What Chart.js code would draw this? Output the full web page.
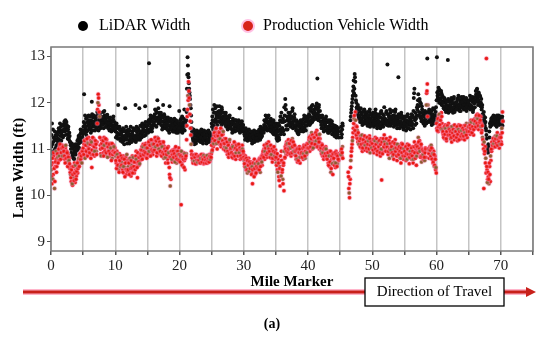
<!DOCTYPE html>
<html>
<head>
<meta charset="utf-8">
<script src="https://cdn.jsdelivr.net/npm/chart.js@4.4.1/dist/chart.umd.min.js"></script>
<style>
  body { margin: 0; background: #fff; }
  canvas { display: block; }
</style>
</head>
<body>
<canvas id="laneChart" width="550" height="343"></canvas>
<script>
// mile markers; each mile has one row of ten readings per pass
const mileMarkers = [];
for (let m = 0; m <= 70; m++) mileMarkers.push(m);

// pass A: readings at m + 0.05, m + 0.15, ...
const lidarWidth = [
  [11.05, 11.55, 10.90, 11.15, 11.25, 10.98, 11.20, 11.30, 11.08, 11.35],
  [11.22, 11.38, 11.15, 11.42, 11.28, 11.48, 11.32, 11.40, 11.25, 11.50],
  [11.55, 11.38, 11.62, 11.45, 11.52, 11.32, 11.42, 11.25, 11.35, 11.15],
  [11.08, 10.92, 11.12, 10.85, 11.00, 10.80, 10.95, 11.05, 10.88, 11.02],
  [11.10, 10.98, 11.22, 11.12, 11.30, 11.18, 11.35, 11.25, 11.40, 11.32],
  [11.48, 12.18, 11.55, 11.42, 11.65, 11.38, 11.58, 11.50, 11.72, 11.45],
  [11.58, 11.42, 11.62, 12.02, 11.48, 11.68, 11.52, 11.60, 11.40, 11.65],
  [11.52, 11.70, 11.48, 11.75, 11.58, 11.64, 11.50, 11.78, 11.60, 11.68],
  [11.62, 11.80, 11.55, 11.72, 11.58, 11.66, 11.50, 11.74, 11.60, 11.52],
  [11.48, 11.62, 11.55, 11.42, 11.60, 11.50, 11.64, 11.45, 11.58, 11.52],
  [11.38, 11.52, 11.28, 11.45, 11.95, 11.32, 11.48, 11.22, 11.40, 11.30],
  [11.22, 11.38, 11.18, 11.42, 11.28, 11.88, 11.20, 11.35, 11.12, 11.32],
  [11.28, 11.18, 11.40, 11.22, 11.32, 11.15, 11.38, 11.25, 11.20, 11.42],
  [11.18, 11.95, 11.28, 11.38, 11.22, 11.45, 11.30, 11.88, 11.20, 11.35],
  [11.32, 11.48, 11.28, 11.42, 11.38, 11.52, 11.92, 11.30, 11.48, 11.40],
  [11.42, 11.58, 12.85, 11.38, 11.65, 11.48, 11.60, 11.45, 11.68, 11.52],
  [11.58, 11.75, 11.50, 11.82, 11.62, 12.05, 11.68, 11.55, 11.78, 11.60],
  [11.65, 11.52, 11.72, 11.48, 11.95, 11.58, 11.70, 11.45, 11.62, 11.55],
  [11.48, 11.62, 11.40, 11.58, 11.92, 11.50, 11.65, 11.42, 11.55, 11.38],
  [11.45, 11.58, 11.38, 11.50, 11.62, 11.42, 11.55, 11.35, 11.48, 11.82],
  [11.52, 11.40, 11.65, 11.48, 11.35, 11.58, 11.42, 11.85, 11.50, 11.60],
  [11.62, 12.30, 12.98, 12.62, 12.42, 12.22, 12.08, 11.88, 11.58, 11.38],
  [11.25, 11.15, 11.32, 11.20, 11.38, 11.12, 11.28, 11.22, 11.35, 11.18],
  [11.22, 11.30, 11.15, 11.35, 11.20, 11.28, 11.12, 11.38, 11.25, 11.18],
  [11.30, 11.20, 11.35, 11.15, 11.28, 11.22, 11.32, 11.18, 11.25, 11.30],
  [11.48, 11.62, 11.42, 11.78, 11.58, 11.88, 11.65, 11.72, 11.52, 11.80],
  [11.68, 11.82, 11.58, 11.75, 11.62, 11.90, 11.55, 11.70, 11.60, 11.78],
  [11.58, 11.72, 11.48, 11.65, 11.52, 11.60, 11.45, 11.68, 11.50, 11.58],
  [11.52, 11.42, 11.60, 11.38, 11.55, 11.48, 11.62, 11.40, 11.50, 11.45],
  [11.48, 11.58, 11.40, 11.88, 11.52, 11.42, 11.55, 11.38, 11.50, 11.45],
  [11.38, 11.28, 11.42, 11.22, 11.35, 11.30, 11.40, 11.25, 11.32, 11.20],
  [11.25, 11.32, 11.18, 11.28, 11.22, 11.35, 11.15, 11.30, 11.20, 11.26],
  [11.28, 11.22, 11.35, 11.25, 11.38, 11.20, 11.32, 11.42, 11.28, 11.45],
  [11.38, 11.52, 11.42, 11.58, 11.48, 11.65, 11.40, 11.55, 11.72, 11.50],
  [11.45, 11.60, 11.38, 11.52, 11.42, 11.58, 11.32, 11.48, 11.40, 11.55],
  [11.28, 11.42, 11.18, 11.38, 11.25, 11.50, 11.62, 11.32, 11.78, 11.45],
  [11.38, 11.58, 11.32, 11.72, 12.08, 11.85, 11.42, 11.62, 11.52, 11.78],
  [11.58, 11.72, 11.48, 11.65, 11.52, 11.82, 11.45, 11.60, 11.68, 11.50],
  [11.48, 11.40, 11.58, 11.35, 11.50, 11.38, 11.55, 11.42, 11.62, 11.45],
  [11.42, 11.55, 11.38, 11.65, 11.48, 11.58, 11.40, 11.70, 11.52, 11.60],
  [11.58, 11.75, 11.52, 11.82, 11.62, 11.92, 11.58, 11.78, 11.68, 11.85],
  [11.72, 11.88, 11.65, 11.98, 12.52, 11.78, 11.90, 11.68, 11.82, 11.60],
  [11.52, 11.68, 11.45, 11.60, 11.38, 11.55, 11.48, 11.65, 11.40, 11.58],
  [11.42, 11.58, 11.35, 11.50, 11.62, 11.40, 11.55, 11.32, 11.48, 11.38],
  [11.32, 11.45, 11.28, 11.40, 11.48, 11.30, 11.38, 11.25, null, null],
  [null, 11.48, 11.32, 11.55, null, null, null, null, null, null],
  [null, null, null, null, null, null, 11.70, 11.85, 12.00, 12.15],
  [12.35, 12.20, 12.62, 12.45, 12.05, 11.90, 11.78, 11.95, 11.70, 11.85],
  [11.65, 11.80, 11.58, 11.75, 11.52, 11.70, 11.55, 11.85, 11.62, 11.72],
  [11.60, 11.75, 11.50, 11.68, 11.55, 11.80, 11.48, 11.65, 11.58, 11.70],
  [11.55, 11.70, 11.48, 11.65, 11.78, 11.52, 11.68, 11.45, 11.62, 11.58],
  [11.52, 11.68, 11.45, 11.80, 11.58, 11.50, 11.75, 11.55, 11.90, 11.62],
  [11.58, 11.78, 11.52, 12.82, 11.62, 11.72, 11.55, 11.85, 11.50, 11.68],
  [11.62, 11.55, 11.72, 11.48, 11.65, 11.80, 11.52, 11.70, 11.45, 11.62],
  [12.55, 11.68, 11.45, 11.60, 11.52, 11.72, 11.48, 11.65, 11.42, 11.58],
  [11.48, 11.62, 11.40, 11.55, 11.70, 11.45, 11.60, 11.52, 11.66, 11.42],
  [11.58, 11.50, 11.72, 11.45, 12.10, 12.30, 11.52, 11.68, 11.55, 11.90],
  [11.95, 12.18, 11.80, 12.08, 11.68, 11.98, 11.60, 11.85, 11.72, 11.55],
  [11.62, 11.50, 11.75, 11.58, 11.70, 12.95, 11.80, 11.60, 11.85, 11.66],
  [11.60, 11.75, 11.52, 11.68, 11.88, 11.55, 11.72, 11.62, 11.80, 11.65],
  [12.98, 12.15, 12.25, 12.05, 12.28, 12.10, 11.98, 12.20, 12.02, 12.12],
  [11.92, 12.05, 11.85, 12.00, 11.80, 11.95, 11.88, 12.92, 11.78, 12.02],
  [11.95, 11.82, 12.05, 11.88, 11.98, 11.78, 12.08, 11.85, 11.92, 12.00],
  [11.90, 12.02, 11.85, 12.10, 11.95, 11.88, 12.05, 11.82, 11.98, 12.08],
  [11.92, 12.00, 11.85, 12.08, 11.90, 11.98, 11.82, 12.05, 11.95, 11.88],
  [11.95, 12.05, 11.85, 12.10, 11.92, 12.02, 11.80, 12.08, 11.98, 11.90],
  [12.05, 12.18, 12.28, 12.10, 11.95, 12.22, 12.00, 12.15, 11.92, 12.08],
  [11.90, 11.75, 11.62, 11.80, 11.55, 11.68, 11.45, 11.30, 11.05, 10.95],
  [11.10, 10.95, 11.25, 11.48, 11.60, 11.52, 11.68, 11.58, 11.72, 11.62],
  [11.55, 11.70, 11.60, 11.48, 11.65, 11.58, 11.72, 11.52, 11.62, 11.68],
  [11.58, 11.65, 11.50, null, null, null, null, null, null, null]
];

const vehicleWidth = [
  [10.55, 10.25, 10.70, 10.45, 10.85, 10.15, 10.62, 10.78, 10.50, 10.88],
  [10.82, 10.95, 10.75, 11.05, 10.88, 10.98, 10.80, 11.08, 10.92, 11.00],
  [10.90, 10.78, 11.02, 10.85, 10.95, 10.72, 10.88, 10.65, 10.80, 10.58],
  [10.45, 10.30, 10.62, 10.22, 10.50, 10.38, 10.70, 10.28, 10.55, 10.42],
  [10.60, 10.48, 10.75, 10.65, 10.85, 10.72, 10.92, 10.80, 10.98, 10.88],
  [10.95, 11.10, 10.85, 11.20, 10.98, 11.15, 10.90, 11.05, 11.25, 10.92],
  [11.00, 11.18, 10.88, 10.60, 11.08, 10.95, 11.22, 10.85, 11.12, 11.02],
  [10.95, 11.15, 11.85, 12.18, 11.95, 11.70, 11.08, 10.90, 11.20, 11.02],
  [11.10, 10.92, 11.25, 11.00, 11.15, 10.88, 11.20, 11.05, 10.95, 11.12],
  [11.00, 10.85, 11.12, 10.95, 11.05, 10.80, 10.98, 11.08, 10.88, 11.02],
  [10.85, 10.70, 10.95, 10.62, 10.80, 10.55, 10.90, 10.68, 10.78, 10.60],
  [10.72, 10.55, 10.85, 10.48, 10.68, 10.60, 10.82, 10.45, 10.75, 10.58],
  [10.62, 10.78, 10.50, 10.70, 10.42, 10.65, 10.85, 10.55, 10.72, 10.48],
  [10.80, 10.62, 10.95, 10.70, 10.38, 10.85, 10.65, 10.90, 10.75, 10.98],
  [10.90, 11.05, 10.82, 11.10, 10.95, 11.02, 10.85, 11.12, 10.98, 10.88],
  [10.95, 11.10, 10.85, 11.18, 11.00, 11.12, 10.92, 11.05, 10.88, 11.15],
  [11.05, 11.20, 10.95, 11.15, 10.85, 11.25, 11.00, 11.12, 10.90, 11.08],
  [11.02, 10.88, 11.15, 10.95, 11.10, 10.80, 11.05, 10.92, 10.70, 11.00],
  [10.95, 10.78, 11.05, 10.85, 10.45, 10.20, 10.35, 10.90, 10.72, 10.98],
  [10.88, 10.75, 11.00, 10.82, 10.95, 10.70, 10.90, 10.78, 11.02, 10.85],
  [10.80, 10.95, 9.80, 10.70, 10.88, 10.62, 10.92, 10.75, 10.55, 10.85],
  [10.90, 11.50, 11.85, 12.05, 12.25, 11.95, 11.60, 11.30, 10.95, 10.82],
  [10.75, 10.82, 10.70, 10.88, 10.72, 10.80, 10.68, 10.85, 10.78, 10.74],
  [10.80, 10.72, 10.86, 10.70, 10.82, 10.76, 10.88, 10.68, 10.78, 10.84],
  [10.72, 10.85, 10.78, 10.70, 10.82, 10.76, 10.88, 10.74, 10.80, 10.90],
  [10.95, 11.15, 11.05, 11.30, 11.10, 11.40, 11.20, 11.35, 11.00, 11.25],
  [11.20, 11.38, 11.10, 11.28, 11.05, 11.42, 11.15, 11.32, 11.00, 11.22],
  [11.05, 11.18, 10.95, 11.12, 10.88, 11.08, 10.82, 11.15, 10.92, 11.02],
  [10.95, 10.85, 11.08, 10.80, 11.00, 10.90, 11.12, 10.78, 10.98, 10.88],
  [10.92, 11.05, 10.85, 11.00, 10.78, 10.95, 10.88, 11.08, 10.82, 10.90],
  [10.75, 10.62, 10.85, 10.55, 10.72, 10.48, 10.68, 10.80, 10.58, 10.70],
  [10.60, 10.72, 10.50, 10.25, 10.65, 10.55, 10.78, 10.45, 10.62, 10.52],
  [10.68, 10.55, 10.75, 10.62, 10.80, 10.50, 10.72, 10.85, 10.65, 10.90],
  [10.85, 11.00, 10.78, 11.05, 10.90, 11.12, 10.82, 10.98, 11.15, 10.92],
  [10.88, 11.05, 10.80, 10.95, 10.72, 11.02, 10.85, 10.92, 10.78, 10.98],
  [10.70, 10.85, 10.55, 10.78, 10.40, 10.62, 10.20, 10.72, 10.95, 10.50],
  [10.35, 10.65, 10.10, 10.80, 11.05, 10.90, 11.15, 10.88, 11.02, 11.20],
  [11.05, 10.92, 11.15, 10.85, 11.08, 11.22, 10.95, 11.10, 10.88, 11.00],
  [10.90, 10.78, 11.02, 10.72, 10.95, 10.82, 11.05, 10.70, 10.88, 10.98],
  [10.85, 11.00, 10.78, 11.08, 10.92, 10.80, 11.02, 10.88, 11.12, 10.95],
  [11.05, 11.20, 10.95, 11.28, 11.10, 11.35, 11.00, 11.18, 11.08, 11.30],
  [11.15, 11.32, 11.05, 11.40, 11.20, 11.10, 11.28, 11.00, 11.22, 11.12],
  [10.95, 11.10, 10.85, 11.02, 10.78, 10.98, 10.88, 11.05, 10.80, 10.92],
  [10.85, 10.70, 10.95, 10.62, 10.88, 10.50, 10.78, 10.92, 10.45, 10.80],
  [10.72, 10.88, 10.60, 10.95, 10.82, 10.68, 10.90, 10.75, null, null],
  [null, 10.95, 10.85, 11.05, null, null, null, null, null, null],
  [null, null, 10.50, 10.15, 9.95, 10.35, 10.75, 10.95, 11.10, 11.25],
  [11.45, 11.65, 11.35, 11.80, 11.50, 11.25, 11.40, 11.15, 11.30, 11.20],
  [11.10, 11.28, 11.02, 11.20, 10.95, 11.15, 11.05, 11.25, 10.98, 11.18],
  [11.08, 11.22, 10.95, 11.15, 11.02, 11.28, 10.92, 11.12, 11.05, 11.20],
  [11.05, 11.18, 10.92, 11.12, 11.25, 10.98, 11.15, 10.88, 11.08, 11.02],
  [10.98, 11.12, 10.85, 11.22, 10.33, 10.95, 11.18, 11.02, 11.30, 11.08],
  [11.02, 11.20, 10.95, 11.15, 10.88, 11.10, 10.80, 11.25, 10.92, 11.05],
  [10.98, 10.85, 11.12, 10.78, 11.05, 11.20, 10.90, 11.08, 10.75, 11.00],
  [10.92, 11.08, 10.82, 11.00, 10.70, 11.12, 10.85, 11.02, 10.78, 10.95],
  [10.88, 11.02, 10.75, 10.95, 11.10, 10.82, 10.98, 10.68, 11.05, 10.80],
  [10.92, 10.78, 11.05, 10.70, 10.88, 11.15, 10.82, 11.00, 10.65, 10.95],
  [11.10, 11.25, 10.95, 11.18, 10.85, 11.05, 10.72, 11.00, 10.90, 10.78],
  [10.88, 10.75, 11.02, 10.82, 12.20, 12.40, 11.95, 10.95, 10.80, 11.05],
  [10.92, 11.08, 10.80, 11.00, 10.70, 10.95, 10.62, 10.85, 10.55, 10.48],
  [11.45, 11.60, 11.38, 11.72, 11.50, 11.65, 11.42, 11.78, 11.55, 11.35],
  [11.30, 11.45, 11.22, 11.52, 11.35, 11.18, 11.42, 11.28, 11.55, 11.38],
  [11.35, 11.22, 11.48, 11.15, 11.40, 11.28, 11.50, 11.20, 11.32, 11.45],
  [11.30, 11.45, 11.18, 11.38, 11.52, 11.25, 11.42, 11.32, 11.48, 11.22],
  [11.38, 11.28, 11.50, 11.20, 11.42, 11.32, 11.55, 11.25, 11.45, 11.35],
  [11.40, 11.55, 11.32, 11.62, 11.45, 11.38, 11.58, 11.30, 11.50, 11.65],
  [11.52, 11.68, 11.45, 11.75, 11.58, 11.42, 11.65, 11.50, 11.70, 11.55],
  [11.40, 11.25, 11.10, 10.15, 10.90, 11.05, 10.80, 12.95, 10.55, 10.35],
  [10.40, 10.25, 10.62, 10.30, 10.75, 10.95, 11.10, 11.02, 11.18, 11.25],
  [11.12, 11.28, 11.05, 11.20, 11.35, 11.10, 11.25, 11.02, 11.18, 11.30],
  [11.15, 11.45, 11.80, null, null, null, null, null, null, null]
];

// pass B: readings at m + 0.0, m + 0.1, ...
const lidarWidthB = [
  [10.95, 11.30, 11.10, 11.42, 10.88, 11.22, 11.38, 11.02, 11.28, 11.18],
  [11.30, 11.12, 11.45, 11.20, 11.55, 11.35, 11.18, 11.52, 11.38, 11.28],
  [11.42, 11.60, 11.48, 11.30, 11.58, 11.40, 11.22, 11.48, 11.20, 11.28],
  [11.15, 11.00, 10.82, 11.05, 10.90, 11.08, 10.78, 10.88, 11.10, 10.95],
  [11.00, 11.18, 11.05, 11.28, 11.02, 11.22, 11.42, 11.15, 11.38, 11.25],
  [11.40, 11.58, 11.35, 11.72, 11.48, 11.30, 11.68, 11.40, 11.55, 11.62],
  [11.50, 11.70, 11.35, 11.55, 11.75, 11.40, 11.58, 11.72, 11.48, 11.55],
  [11.62, 11.45, 11.80, 11.55, 11.40, 11.72, 11.58, 11.45, 11.70, 11.55],
  [11.52, 11.68, 11.45, 11.82, 11.62, 11.48, 11.72, 11.56, 11.68, 11.45],
  [11.55, 11.40, 11.68, 11.52, 11.38, 11.58, 11.45, 11.70, 11.50, 11.40],
  [11.45, 11.25, 11.55, 11.35, 11.22, 11.48, 11.30, 11.42, 11.18, 11.35],
  [11.30, 11.15, 11.45, 11.25, 11.10, 11.38, 11.28, 11.48, 11.22, 11.40],
  [11.35, 11.42, 11.12, 11.30, 11.48, 11.25, 11.18, 11.32, 11.45, 11.28],
  [11.25, 11.40, 11.15, 11.48, 11.32, 11.20, 11.42, 11.25, 11.38, 11.50],
  [11.38, 11.25, 11.55, 11.35, 11.48, 11.28, 11.40, 11.58, 11.35, 11.52],
  [11.50, 11.35, 11.62, 11.55, 11.42, 11.72, 11.50, 11.38, 11.58, 11.70],
  [11.65, 11.52, 11.85, 11.68, 11.48, 11.78, 11.60, 11.88, 11.65, 11.72],
  [11.58, 11.78, 11.60, 11.42, 11.68, 11.52, 11.75, 11.62, 11.50, 11.68],
  [11.55, 11.42, 11.68, 11.50, 11.35, 11.60, 11.45, 11.58, 11.48, 11.62],
  [11.52, 11.38, 11.65, 11.45, 11.55, 11.35, 11.60, 11.48, 11.40, 11.55],
  [11.45, 11.62, 11.38, 11.55, 11.70, 11.45, 11.52, 11.65, 11.40, 11.55],
  [11.50, 11.80, 12.60, 12.80, 12.55, 12.30, 12.15, 11.95, 11.72, 11.45],
  [11.30, 11.20, 11.42, 11.10, 11.28, 11.35, 11.18, 11.40, 11.25, 11.30],
  [11.28, 11.38, 11.18, 11.25, 11.42, 11.15, 11.32, 11.22, 11.40, 11.30],
  [11.25, 11.38, 11.12, 11.30, 11.20, 11.40, 11.15, 11.35, 11.28, 11.22],
  [11.55, 11.70, 11.85, 11.50, 11.95, 11.62, 11.78, 11.58, 11.92, 11.68],
  [11.75, 11.60, 11.92, 11.68, 11.80, 11.52, 11.85, 11.65, 11.78, 11.62],
  [11.65, 11.52, 11.78, 11.58, 11.70, 11.42, 11.62, 11.55, 11.72, 11.48],
  [11.45, 11.58, 11.35, 11.65, 11.42, 11.55, 11.38, 11.52, 11.62, 11.40],
  [11.55, 11.42, 11.62, 11.48, 11.35, 11.58, 11.45, 11.60, 11.42, 11.52],
  [11.42, 11.32, 11.20, 11.45, 11.28, 11.38, 11.18, 11.35, 11.42, 11.25],
  [11.30, 11.20, 11.38, 11.12, 11.32, 11.25, 11.40, 11.22, 11.35, 11.18],
  [11.22, 11.38, 11.18, 11.30, 11.42, 11.28, 11.48, 11.25, 11.38, 11.35],
  [11.45, 11.35, 11.62, 11.50, 11.72, 11.45, 11.58, 11.68, 11.42, 11.60],
  [11.52, 11.40, 11.65, 11.48, 11.55, 11.35, 11.62, 11.42, 11.50, 11.35],
  [11.35, 11.22, 11.48, 11.30, 11.55, 11.20, 11.42, 11.70, 11.38, 11.58],
  [11.45, 11.65, 11.40, 11.90, 11.60, 11.95, 11.50, 11.70, 11.42, 11.65],
  [11.65, 11.52, 11.78, 11.58, 11.70, 11.55, 11.88, 11.52, 11.62, 11.75],
  [11.52, 11.45, 11.62, 11.40, 11.55, 11.32, 11.48, 11.58, 11.38, 11.52],
  [11.48, 11.62, 11.45, 11.55, 11.72, 11.42, 11.65, 11.50, 11.62, 11.68],
  [11.65, 11.55, 11.88, 11.70, 11.55, 11.85, 11.68, 11.95, 11.62, 11.75],
  [11.80, 11.65, 11.92, 11.75, 11.70, 11.85, 11.62, 11.95, 11.72, 11.68],
  [11.58, 11.45, 11.72, 11.52, 11.65, 11.42, 11.60, 11.55, 11.70, 11.48],
  [11.48, 11.35, 11.62, 11.45, 11.38, 11.55, 11.45, 11.60, 11.40, 11.52],
  [11.40, 11.28, 11.50, 11.35, 11.25, 11.42, 11.32, 11.45, null, null],
  [null, 11.38, 11.25, 11.42, 11.50, null, null, null, null, null],
  [null, null, null, null, null, null, 11.62, 11.78, 11.92, 12.08],
  [12.25, 12.48, 12.30, 12.55, 12.15, 12.00, 11.85, 11.75, 11.90, 11.65],
  [11.72, 11.58, 11.88, 11.65, 11.78, 11.60, 11.82, 11.68, 11.55, 11.78],
  [11.68, 11.55, 11.80, 11.62, 11.72, 11.50, 11.85, 11.60, 11.75, 11.52],
  [11.62, 11.78, 11.55, 11.72, 11.60, 11.85, 11.55, 11.75, 11.50, 11.70],
  [11.60, 11.75, 11.52, 11.68, 11.82, 11.58, 11.65, 11.48, 11.72, 11.55],
  [11.65, 11.55, 11.82, 11.60, 11.75, 11.50, 11.68, 11.62, 11.78, 11.55],
  [11.70, 11.58, 11.82, 11.55, 11.72, 11.62, 11.85, 11.58, 11.68, 11.52],
  [11.55, 11.75, 11.52, 11.68, 11.60, 11.78, 11.55, 11.70, 11.50, 11.65],
  [11.55, 11.70, 11.48, 11.62, 11.52, 11.75, 11.58, 11.45, 11.68, 11.55],
  [11.62, 11.75, 11.55, 11.68, 11.82, 12.20, 11.62, 11.78, 11.65, 11.72],
  [11.85, 12.05, 11.92, 11.72, 12.02, 11.78, 11.65, 11.92, 11.62, 11.78],
  [11.70, 11.58, 11.82, 11.65, 11.55, 11.78, 11.68, 11.72, 11.58, 11.80],
  [11.72, 11.58, 11.82, 11.62, 11.75, 11.68, 11.85, 11.58, 11.72, 11.90],
  [12.05, 12.22, 12.10, 12.32, 12.00, 12.18, 12.08, 12.25, 11.95, 12.15],
  [12.00, 11.88, 12.10, 11.92, 12.05, 11.85, 12.02, 11.90, 12.08, 11.82],
  [11.88, 12.02, 11.92, 12.10, 11.85, 12.00, 11.90, 12.12, 11.80, 11.95],
  [11.98, 11.85, 12.08, 11.92, 12.15, 11.95, 11.82, 12.00, 11.90, 12.12],
  [12.02, 11.90, 12.12, 11.95, 12.05, 11.88, 12.10, 11.92, 12.02, 11.98],
  [12.02, 11.88, 12.15, 11.95, 12.08, 11.90, 12.12, 11.85, 12.05, 12.00],
  [12.12, 12.25, 12.02, 12.30, 12.15, 12.05, 12.18, 11.98, 12.12, 12.00],
  [11.85, 11.95, 11.70, 11.72, 11.62, 11.50, 11.58, 11.40, 11.22, 11.00],
  [10.92, 11.05, 11.38, 11.55, 11.50, 11.65, 11.55, 11.62, 11.68, 11.55],
  [11.62, 11.52, 11.68, 11.58, 11.72, 11.55, 11.65, 11.60, 11.70, 11.58],
  [11.62, 11.55, 11.70, 11.60, null, null, null, null, null, null]
];

const vehicleWidthB = [
  [10.65, 10.40, 10.80, 10.35, 10.92, 10.58, 10.30, 10.72, 10.95, 10.62],
  [10.90, 10.70, 11.00, 10.85, 11.10, 10.78, 10.92, 11.02, 10.85, 11.05],
  [10.95, 10.85, 10.70, 11.08, 10.80, 10.92, 10.62, 10.82, 10.75, 10.68],
  [10.50, 10.38, 10.55, 10.25, 10.45, 10.62, 10.32, 10.48, 10.65, 10.35],
  [10.52, 10.70, 10.58, 10.80, 10.62, 10.90, 10.78, 10.85, 10.70, 10.95],
  [11.02, 10.88, 11.18, 10.80, 11.08, 10.95, 11.22, 10.85, 11.12, 11.00],
  [10.92, 11.10, 10.80, 11.15, 10.98, 11.25, 10.88, 11.05, 10.95, 11.18],
  [11.10, 10.88, 11.55, 12.00, 12.10, 11.80, 11.25, 11.00, 10.85, 11.12],
  [11.02, 11.18, 10.85, 11.08, 10.95, 11.22, 10.92, 11.12, 10.82, 11.05],
  [10.95, 11.10, 10.90, 11.02, 10.75, 11.12, 10.88, 10.95, 11.05, 10.92],
  [10.92, 10.75, 10.58, 10.88, 10.65, 10.82, 10.50, 10.75, 10.62, 10.85],
  [10.65, 10.80, 10.50, 10.62, 10.78, 10.40, 10.70, 10.55, 10.88, 10.52],
  [10.55, 10.70, 10.45, 10.80, 10.58, 10.75, 10.60, 10.48, 10.82, 10.62],
  [10.72, 10.55, 10.85, 10.78, 10.60, 10.92, 10.72, 10.82, 10.68, 10.88],
  [10.85, 10.98, 10.78, 11.05, 10.88, 10.95, 11.08, 10.92, 11.02, 10.80],
  [11.02, 10.90, 11.15, 10.95, 11.08, 10.85, 11.20, 10.98, 11.10, 10.95],
  [11.10, 10.98, 11.25, 11.05, 11.18, 10.92, 11.08, 11.22, 11.00, 11.15],
  [10.95, 11.10, 10.85, 11.05, 10.92, 11.15, 10.88, 11.00, 10.82, 10.95],
  [10.88, 11.02, 10.70, 10.92, 10.60, 10.38, 10.82, 10.95, 10.78, 10.88],
  [10.95, 10.82, 10.90, 10.72, 11.05, 10.85, 10.78, 10.95, 10.88, 10.75],
  [10.88, 10.72, 10.85, 10.95, 10.65, 10.82, 10.78, 10.60, 10.90, 10.80],
  [10.85, 11.20, 11.70, 12.15, 12.45, 12.10, 11.75, 11.45, 11.10, 10.88],
  [10.80, 10.70, 10.86, 10.74, 10.82, 10.68, 10.88, 10.76, 10.72, 10.84],
  [10.76, 10.84, 10.70, 10.80, 10.88, 10.72, 10.82, 10.78, 10.86, 10.70],
  [10.82, 10.76, 10.70, 10.86, 10.74, 10.80, 10.72, 10.84, 10.78, 10.82],
  [11.08, 10.98, 11.22, 11.12, 11.35, 11.18, 11.28, 11.45, 11.12, 11.30],
  [11.28, 11.15, 11.35, 11.22, 11.45, 11.10, 11.30, 11.18, 11.38, 11.12],
  [11.12, 10.98, 11.22, 11.02, 11.15, 10.95, 11.08, 10.90, 11.20, 11.00],
  [11.02, 10.92, 10.82, 11.05, 10.88, 11.15, 10.85, 11.02, 10.92, 11.08],
  [10.98, 10.85, 11.10, 10.92, 11.02, 10.85, 10.98, 10.80, 11.00, 10.95],
  [10.82, 10.68, 10.78, 10.60, 10.80, 10.55, 10.75, 10.65, 10.52, 10.72],
  [10.58, 10.68, 10.45, 10.62, 10.55, 10.70, 10.40, 10.58, 10.68, 10.48],
  [10.62, 10.72, 10.58, 10.68, 10.55, 10.78, 10.62, 10.80, 10.72, 10.85],
  [10.95, 10.82, 11.08, 10.95, 11.02, 10.88, 11.10, 10.92, 11.05, 11.00],
  [10.95, 10.82, 11.08, 10.88, 11.00, 10.80, 10.95, 11.05, 10.85, 10.92],
  [10.82, 10.65, 10.90, 10.50, 10.70, 10.32, 10.58, 10.85, 10.42, 10.75],
  [10.55, 10.25, 10.70, 10.95, 10.82, 11.00, 11.10, 10.95, 11.12, 10.92],
  [11.00, 11.12, 10.90, 11.02, 11.18, 10.92, 11.05, 11.15, 10.95, 11.08],
  [10.95, 10.85, 10.98, 10.78, 11.00, 10.75, 10.92, 11.00, 10.82, 10.90],
  [10.92, 10.82, 11.02, 10.90, 11.05, 10.85, 10.95, 11.08, 10.92, 11.02],
  [11.12, 11.02, 11.25, 11.15, 11.05, 11.22, 11.12, 11.30, 11.02, 11.25],
  [11.25, 11.10, 11.35, 11.18, 11.30, 11.05, 11.22, 11.15, 11.32, 11.05],
  [11.02, 10.90, 11.08, 10.92, 11.00, 10.85, 11.02, 10.90, 11.00, 10.85],
  [10.78, 10.92, 10.65, 10.85, 10.72, 10.95, 10.58, 10.85, 10.68, 10.90],
  [10.80, 10.65, 10.92, 10.70, 10.88, 10.62, 10.85, 10.78, null, null],
  [null, 10.88, 11.00, 10.92, 10.80, null, null, null, null, null],
  [null, null, null, 10.40, 10.05, 10.25, 10.60, 10.85, 11.02, 11.18],
  [11.35, 11.55, 11.72, 11.40, 11.62, 11.30, 11.48, 11.22, 11.35, 11.10],
  [11.18, 11.05, 11.22, 11.10, 11.30, 11.02, 11.20, 11.12, 11.28, 11.08],
  [11.15, 11.02, 11.25, 11.10, 11.18, 11.00, 11.22, 11.08, 11.15, 11.02],
  [11.12, 10.98, 11.20, 11.05, 11.18, 11.00, 11.10, 11.22, 10.95, 11.15],
  [11.05, 11.18, 10.92, 11.10, 11.00, 11.15, 10.90, 11.22, 11.05, 11.15],
  [11.10, 10.95, 11.22, 11.05, 11.12, 10.95, 11.18, 11.00, 11.12, 10.98],
  [11.05, 10.92, 11.15, 10.88, 11.00, 11.12, 10.95, 11.02, 10.85, 11.10],
  [11.00, 10.88, 11.05, 10.95, 10.80, 11.02, 10.92, 11.10, 10.85, 11.00],
  [10.95, 10.85, 11.05, 10.90, 10.78, 11.00, 10.88, 11.08, 10.82, 10.95],
  [10.88, 11.02, 10.85, 10.95, 10.78, 11.05, 10.92, 10.80, 11.08, 10.85],
  [11.05, 10.92, 11.15, 11.00, 10.95, 10.82, 11.10, 10.85, 10.98, 10.88],
  [10.95, 10.82, 10.92, 11.00, 11.95, 12.25, 11.70, 11.00, 10.90, 10.98],
  [10.98, 10.85, 11.02, 10.78, 10.90, 10.72, 10.88, 10.65, 10.78, 10.60],
  [11.55, 11.40, 11.65, 11.48, 11.75, 11.52, 11.62, 11.45, 11.70, 11.42],
  [11.38, 11.25, 11.48, 11.32, 11.45, 11.22, 11.38, 11.50, 11.30, 11.45],
  [11.42, 11.30, 11.38, 11.25, 11.48, 11.35, 11.42, 11.28, 11.52, 11.38],
  [11.38, 11.25, 11.48, 11.32, 11.42, 11.20, 11.38, 11.50, 11.28, 11.40],
  [11.32, 11.45, 11.28, 11.40, 11.35, 11.50, 11.30, 11.42, 11.38, 11.48],
  [11.48, 11.38, 11.52, 11.45, 11.58, 11.35, 11.48, 11.62, 11.42, 11.55],
  [11.60, 11.48, 11.72, 11.55, 11.65, 11.50, 11.72, 11.58, 11.62, 11.48],
  [11.35, 11.50, 11.20, 11.00, 11.15, 10.95, 10.70, 10.48, 10.62, 10.28],
  [10.50, 10.35, 10.70, 10.45, 10.85, 11.00, 11.15, 11.08, 11.22, 11.12],
  [11.18, 11.05, 11.22, 11.12, 11.28, 11.08, 11.20, 11.15, 11.25, 11.10],
  [11.25, 11.10, 11.35, 11.60, null, null, null, null, null, null]
];

const yTicks = [9, 10, 11, 12, 13];
const xLabels = [0, 10, 20, 30, 40, 50, 60, 70];

function toPoints(rows, offset) {
  const pts = [];
  mileMarkers.forEach((m, i) => {
    rows[i].forEach((w, k) => {
      if (w !== null) pts.push({ x: m + (k + offset) / 10, y: w });
    });
  });
  return pts;
}

const serif = "'Liberation Serif', 'Times New Roman', serif";

const extras = {
  id: 'extras',
  afterDatasetsDraw(chart) {
    const { ctx, chartArea: a } = chart;
    ctx.save();
    ctx.strokeStyle = '#7a7a7a';
    ctx.lineWidth = 1.5;
    ctx.strokeRect(a.left, a.top, a.right - a.left, a.bottom - a.top);
    ctx.restore();
  },
  afterDraw(chart) {
    const ctx = chart.ctx;
    ctx.save();
    // legend
    ctx.textBaseline = 'middle';
    ctx.font = '16px ' + serif;
    ctx.fillStyle = '#000';
    ctx.beginPath(); ctx.arc(83, 26, 5, 0, Math.PI * 2); ctx.fill();
    ctx.fillText('LiDAR Width', 99, 26);
    ctx.fillStyle = 'rgba(255,150,210,0.6)';
    ctx.beginPath(); ctx.arc(248, 26, 7, 0, Math.PI * 2); ctx.fill();
    ctx.fillStyle = '#d8231b';
    ctx.beginPath(); ctx.arc(248, 26, 5, 0, Math.PI * 2); ctx.fill();
    ctx.fillStyle = '#000';
    ctx.fillText('Production Vehicle Width', 263, 26);

    // y title
    ctx.save();
    ctx.translate(19, 168);
    ctx.rotate(-Math.PI / 2);
    ctx.textAlign = 'center';
    ctx.font = 'bold 15px ' + serif;
    ctx.fillText('Lane Width (ft)', 0, 0);
    ctx.restore();

    // direction arrow
    ctx.strokeStyle = 'rgba(255,150,180,0.7)';
    ctx.lineWidth = 6;
    ctx.beginPath(); ctx.moveTo(23, 292); ctx.lineTo(528, 292); ctx.stroke();
    ctx.strokeStyle = '#c8201a';
    ctx.lineWidth = 3;
    ctx.beginPath(); ctx.moveTo(23, 292); ctx.lineTo(528, 292); ctx.stroke();
    ctx.fillStyle = '#c8201a';
    ctx.beginPath(); ctx.moveTo(526, 287); ctx.lineTo(536, 292); ctx.lineTo(526, 297); ctx.closePath(); ctx.fill();

    ctx.fillStyle = '#fff';
    ctx.fillRect(365, 278, 139, 28);
    ctx.strokeStyle = '#000';
    ctx.lineWidth = 1.3;
    ctx.strokeRect(365, 278, 139, 28);
    ctx.fillStyle = '#000';
    ctx.textAlign = 'center';
    ctx.font = '15px ' + serif;
    ctx.fillText('Direction of Travel', 434.5, 292.5);

    ctx.font = 'bold 14px ' + serif;
    ctx.fillText('(a)', 272, 324);
    ctx.restore();
  }
};

new Chart(document.getElementById('laneChart'), {
  type: 'scatter',
  data: {
    datasets: [{
      label: 'LiDAR Width',
      data: toPoints(lidarWidth, 0.5).concat(toPoints(lidarWidthB, 0)),
      backgroundColor: '#111',
      pointRadius: 2,
      pointBorderWidth: 0,
      order: 1
    }, {
      label: 'Production Vehicle Width',
      data: toPoints(vehicleWidth, 0.5).concat(toPoints(vehicleWidthB, 0)),
      pointBackgroundColor: (c) => (c.dataIndex % 5 === 0 ? '#8e5a2c' : '#e8170f'),
      pointBorderColor: 'rgba(255,160,210,0.3)',
      pointBorderWidth: 1.5,
      pointRadius: 2,
      order: 0
    }]
  },
  plugins: [extras],
  options: {
    responsive: false,
    animation: false,
    events: [],
    layout: { padding: { top: 47, right: 17, bottom: 52, left: 0 } },
    plugins: {
      legend: { display: false },
      tooltip: { enabled: false }
    },
    scales: {
      x: {
        type: 'linear',
        min: 0,
        max: 75,
        afterFit: (s) => { s.height = 40; },
        border: { display: false },
        grid: { color: '#c4c4c4', lineWidth: 1.5, tickColor: '#555', tickLength: 4 },
        ticks: {
          stepSize: 5,
          autoSkip: false,
          maxRotation: 0,
          padding: 2,
          color: '#222',
          font: { family: serif, size: 15 },
          callback: (v) => (xLabels.includes(v) ? String(v) : '')
        },
        title: {
          display: true,
          text: 'Mile Marker',
          color: '#000',
          padding: 0,
          font: { family: serif, size: 15, weight: 'bold' }
        }
      },
      y: {
        min: 8.8,
        max: 13.2,
        afterFit: (s) => { s.width = 51; },
        afterBuildTicks: (s) => { s.ticks = yTicks.map((v) => ({ value: v })); },
        border: { display: false },
        grid: { drawOnChartArea: false, tickColor: '#555', tickLength: 4 },
        ticks: {
          padding: 2,
          color: '#222',
          font: { family: serif, size: 15 }
        }
      }
    }
  }
});
</script>
</body>
</html>
